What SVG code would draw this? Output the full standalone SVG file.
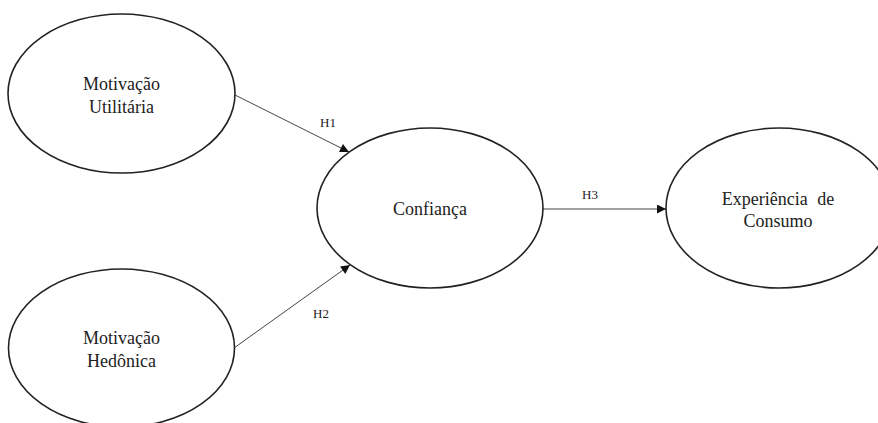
<svg xmlns="http://www.w3.org/2000/svg" width="878" height="423" viewBox="0 0 878 423">
<defs>
<marker id="arr" viewBox="0 0 10 10" refX="10" refY="5" markerWidth="10" markerHeight="9" markerUnits="userSpaceOnUse" orient="auto">
<path d="M0,0 L10,5 L0,10 Z" fill="#111"/>
</marker>
<style>
.node ellipse { fill: #fff; stroke: #222; stroke-width: 1.6; }
.lbl { font-family: "Liberation Serif", "Times New Roman", serif; font-size: 18px; fill: #222; text-anchor: middle; }
.hl { font-family: "Liberation Serif", "Times New Roman", serif; font-size: 13px; fill: #222; text-anchor: middle; }
.edge { stroke: #444; stroke-width: 1; fill: none; marker-end: url(#arr); }
</style>
</defs>
<rect width="878" height="423" fill="#fff"/>
<g id="connectors">
<line class="edge" x1="235" y1="95" x2="349" y2="152"/>
<line class="edge" x1="234" y1="348" x2="350" y2="265"/>
<line class="edge" x1="543" y1="209" x2="666" y2="209"/>
<text class="hl" x="328" y="127">H1</text>
<text class="hl" x="321" y="318">H2</text>
<text class="hl" x="590" y="199">H3</text>
</g>
<g id="node-utilitaria" class="node">
<ellipse cx="121.5" cy="93.5" rx="113.5" ry="79.5"/>
<text class="lbl" x="121.5" y="90">Motivação</text>
<text class="lbl" x="121.5" y="113">Utilitária</text>
</g>
<g id="node-hedonica" class="node">
<ellipse cx="121.5" cy="348" rx="113" ry="79"/>
<text class="lbl" x="121.5" y="344">Motivação</text>
<text class="lbl" x="121.5" y="367">Hedônica</text>
</g>
<g id="node-confianca" class="node">
<ellipse cx="430" cy="208" rx="113" ry="80"/>
<text class="lbl" x="430" y="215">Confiança</text>
</g>
<g id="node-experiencia" class="node">
<ellipse cx="779" cy="208" rx="113" ry="80"/>
<text class="lbl" x="778" y="205" word-spacing="5">Experiência de</text>
<text class="lbl" x="778" y="227">Consumo</text>
</g>
</svg>
